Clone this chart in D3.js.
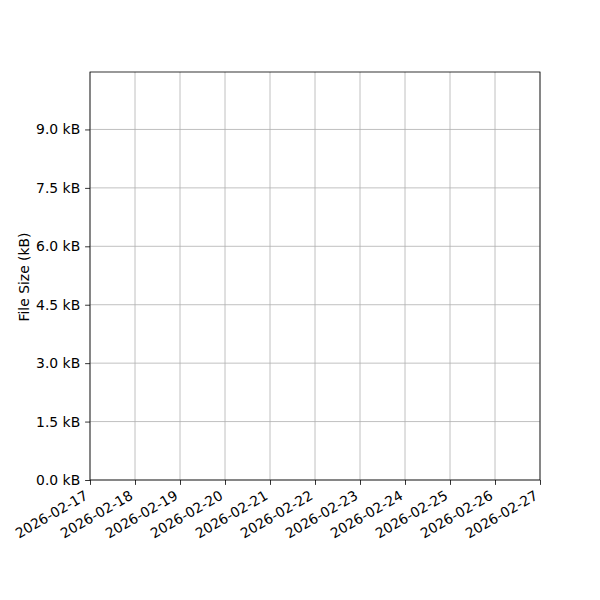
<!DOCTYPE html>
<html>
<head>
<meta charset="utf-8">
<script src="https://cdn.jsdelivr.net/npm/d3@7"></script>
<style>
  body { margin: 0; background: #fff; }
  text { font-family: "DejaVu Sans", sans-serif; }
</style>
</head>
<body>
<div id="chart"></div>
<script>
// Dates shown on the x axis, and kB ticks on y. The series itself is empty.
const dateTicks = ["2026-02-17", "2026-02-18", "2026-02-19", "2026-02-20", "2026-02-21",
  "2026-02-22", "2026-02-23", "2026-02-24", "2026-02-25", "2026-02-26", "2026-02-27"];
const sizeTicks = [0, 1.5, 3.0, 4.5, 6.0, 7.5, 9.0];
const yDomain = [0, 10.475];
const fileDates = [];
const fileSizes = [];

const margin = { top: 72, right: 60, bottom: 120, left: 90 },
    width = 600 - margin.left - margin.right,
    height = 600 - margin.top - margin.bottom;

const parse = d3.timeParse("%Y-%m-%d");
const fmt = d3.timeFormat("%Y-%m-%d");

const svg = d3.select("#chart")
    .append("svg")
    .attr("width", 600)
    .attr("height", 600)
    .append("g")
    .attr("transform", `translate(${margin.left}, ${margin.top})`);

const xScale = d3.scaleTime()
    .domain([parse(dateTicks[0]), parse(dateTicks[dateTicks.length - 1])])
    .range([0, width]);
const yScale = d3.scaleLinear().domain(yDomain).range([height, 0]);

// grid lines
svg.append("g")
    .selectAll("line.vgrid")
    .data(dateTicks.map(parse))
    .enter().append("line")
    .attr("x1", d => xScale(d)).attr("x2", d => xScale(d))
    .attr("y1", 0).attr("y2", height)
    .attr("stroke", "#b0b0b0").attr("stroke-width", 0.8);

svg.append("g")
    .selectAll("line.hgrid")
    .data(sizeTicks)
    .enter().append("line")
    .attr("x1", 0).attr("x2", width)
    .attr("y1", d => yScale(d)).attr("y2", d => yScale(d))
    .attr("stroke", "#b0b0b0").attr("stroke-width", 0.8);

// (empty) data line
const line = d3.line().x((d, i) => xScale(parse(fileDates[i]))).y(d => yScale(d));
svg.append("path")
    .datum(fileSizes)
    .attr("fill", "none")
    .attr("stroke", "#1f77b4")
    .attr("stroke-width", 1.5)
    .attr("d", line);

// x axis
const xAxis = svg.append("g")
    .attr("transform", `translate(0, ${height})`)
    .call(d3.axisBottom(xScale)
        .tickValues(dateTicks.map(parse))
        .tickFormat(fmt)
        .tickSize(4.9)
        .tickSizeOuter(0));
xAxis.select(".domain").remove();
xAxis.selectAll("line").attr("stroke", "#000").attr("stroke-width", 0.8);
xAxis.selectAll("text")
    .attr("fill", "#000")
    .style("font-size", "13.9px")
    .attr("text-anchor", "end")
    .attr("y", 0)
    .attr("dy", 0)
    .attr("transform", "translate(-1.7, 18.3) rotate(-30)");

// y axis
const yAxis = svg.append("g")
    .call(d3.axisLeft(yScale)
        .tickValues(sizeTicks)
        .tickFormat(d => d.toFixed(1) + " kB")
        .tickSize(4.9)
        .tickPadding(4.9)
        .tickSizeOuter(0));
yAxis.select(".domain").remove();
yAxis.selectAll("line").attr("stroke", "#000").attr("stroke-width", 0.8);
yAxis.selectAll("text")
    .attr("fill", "#000")
    .style("font-size", "13.9px");

// frame
svg.append("rect")
    .attr("width", width)
    .attr("height", height)
    .attr("fill", "none")
    .attr("stroke", "#000")
    .attr("stroke-width", 0.8);

// y label
svg.append("text")
    .attr("text-anchor", "middle")
    .attr("transform", `translate(${29 - margin.left}, ${height / 2 + 1}) rotate(-90)`)
    .style("font-size", "13.9px")
    .attr("fill", "#000")
    .text("File Size (kB)");
</script>
</body>
</html>
